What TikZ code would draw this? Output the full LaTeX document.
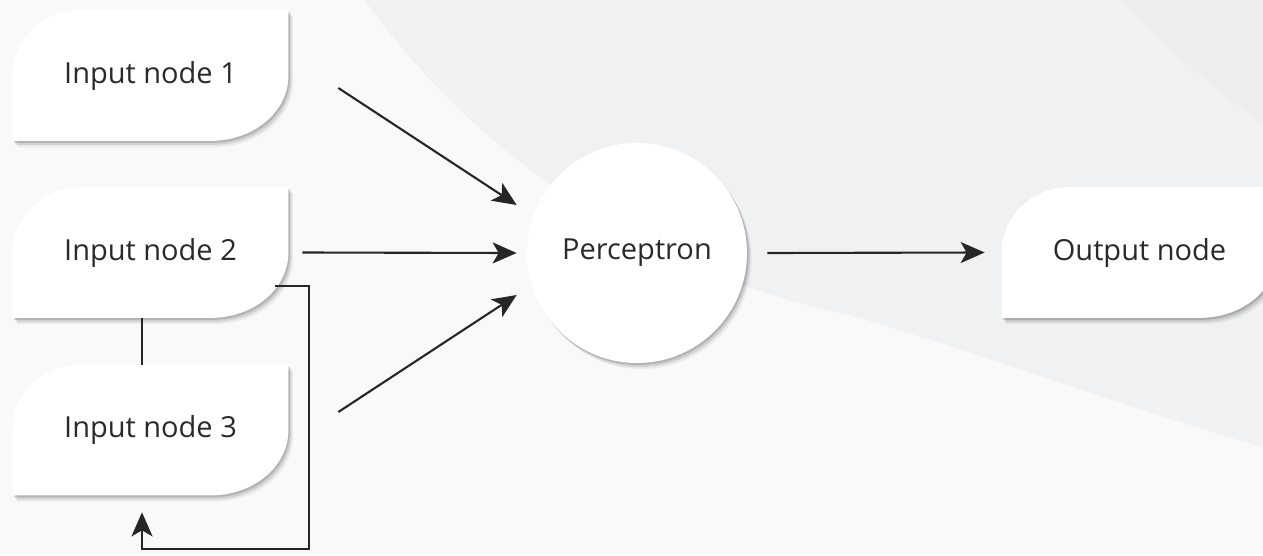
\documentclass[tikz,border=0pt]{standalone}
\usepackage{fontspec}
\setmainfont{Open Sans}
\usetikzlibrary{arrows.meta,shadows}

\definecolor{bglight}{HTML}{F9F9FA}
\definecolor{bgdark}{HTML}{F0F1F3}
\definecolor{bgdarker}{HTML}{ECEDEF}
\definecolor{ink}{HTML}{262626}
\definecolor{txt}{HTML}{2A2A2A}

\pgfdeclarelayer{bg}
\pgfdeclarelayer{cards}
\pgfsetlayers{bg,cards,main}

\tikzset{
  label/.style={text=txt, font=\fontsize{16.5}{19}\selectfont},
  leaf/.style={label, minimum width=5.5cm, minimum height=2.6cm},
  card/.style={fill=white,
    preaction={fill=black, opacity=0.06, transform canvas={shift={(0.09,-0.12)}}},
    preaction={fill=black, opacity=0.10, transform canvas={shift={(0.06,-0.08)}}},
    preaction={fill=black, opacity=0.14, transform canvas={shift={(0.03,-0.04)}}}},
  link/.style={draw=ink, line width=1.2pt, -{Stealth[length=0.48cm, width=0.42cm, inset=0.12cm]}},
  wire/.style={draw=ink, line width=1.2pt}
}

% white card with two round corners behind a node
\newcommand{\leafcard}[1]{%
  \fill[card] (#1.south west) -- ([yshift=-1.3cm]#1.north west)
    arc[start angle=180, end angle=90, x radius=1.35cm, y radius=1.3cm]
    -- (#1.north east) -- ([yshift=1.3cm]#1.south east)
    arc[start angle=0, end angle=-90, x radius=1.55cm, y radius=1.3cm] -- cycle;}

\begin{document}
\begin{tikzpicture}
  \useasboundingbox (0,0) rectangle (25.26,11.1);
  \begin{pgfonlayer}{bg}
    \fill[bglight] (0,0) rectangle (25.26,11.1);
    \fill[bgdark] (7.3,11.1) .. controls (9.5,8) and (13,5.6) .. (17,4.8)
      .. controls (20,3.9) and (23,2.8) .. (25.26,2.16) -- (25.26,11.1) -- cycle;
    \fill[bgdarker] (22.4,11.1) .. controls (23.5,10) and (24.4,9.2) .. (25.26,8.64) -- (25.26,11.1) -- cycle;
  \end{pgfonlayer}

  % nodes
  \node[leaf] (in1) at (3.01,9.59) {Input node 1};
  \node[leaf] (in2) at (3.01,6.05) {Input node 2};
  \node[leaf] (in3) at (3.01,2.50) {Input node 3};
  \node[leaf] (out) at (22.79,6.05) {Output node};
  \node[label, circle, minimum size=4.4cm] (perc) at (12.74,6.04) {Perceptron};

  \begin{pgfonlayer}{cards}
    \leafcard{in1}
    \leafcard{in2}
    \leafcard{in3}
    \leafcard{out}
    \fill[card] (perc) circle[radius=2.2cm];
  \end{pgfonlayer}

  % arrows into the perceptron
  \draw[link] ([xshift=1cm,yshift=-0.25cm]in1.east) -- ([xshift=-0.2cm,yshift=0.96cm]perc.west);
  \draw[link] ([xshift=0.28cm]in2.east) -- ([xshift=-0.2cm]perc.west);
  \draw[link] ([xshift=1cm,yshift=0.36cm]in3.east) -- ([xshift=-0.2cm,yshift=-0.84cm]perc.west);
  \draw[link] ([xshift=0.4cm]perc.east) -- ([xshift=-0.34cm]out.west);

  % feedback loop
  \draw[wire] ([xshift=-0.17cm]in2.south) -- ([xshift=-0.17cm]in3.north);
  \coordinate (fb) at (6.18,0.12);
  \draw[link] ([xshift=-0.26cm,yshift=0.64cm]in2.south east) -| (fb) -| ([xshift=-0.17cm,yshift=-0.34cm]in3.south);
\end{tikzpicture}
\end{document}
